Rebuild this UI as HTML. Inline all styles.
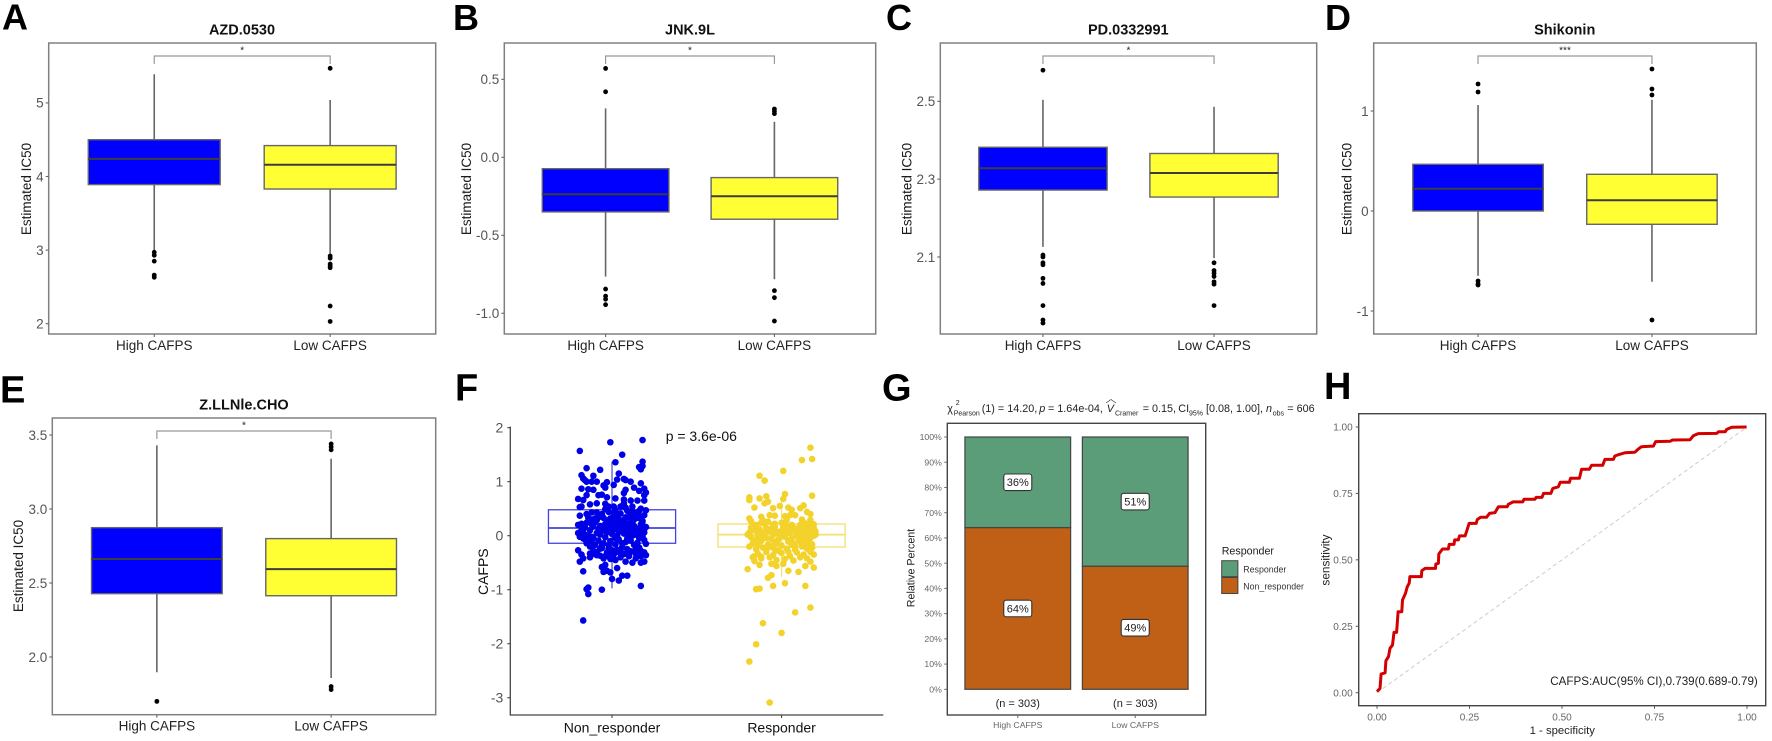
<!DOCTYPE html>
<html lang="en">
<head>
<meta charset="utf-8">
<title>CAFPS drug sensitivity, response and ROC panels</title>
<style>
html,body{margin:0;padding:0;background:#fff;width:1772px;height:741px;overflow:hidden}
svg{display:block}
text{font-family:"Liberation Sans",Arial,sans-serif}
</style>
</head>
<body>
<svg id="figure" xmlns="http://www.w3.org/2000/svg" width="1772" height="741" viewBox="0 0 1772 741">
<rect x="0" y="0" width="1772" height="741" fill="#ffffff"/>
</svg>
<script>
/* ---------- Shared categories ---------- */
const boxCategories = ['High CAFPS', 'Low CAFPS'];

/* ---------- Boxplot data: [lower whisker, q1, median, q3, upper whisker] ---------- */
const azdTicks = [2, 3, 4, 5];
const azdTickLabels = ['2', '3', '4', '5'];
const azdHighBox = [3.0, 3.89, 4.24, 4.5, 5.39];
const azdLowBox = [2.95, 3.83, 4.16, 4.42, 5.04];
const azdHighOutliers = [2.97, 2.93, 2.85, 2.66, 2.63];
const azdLowOutliers = [5.47, 2.92, 2.89, 2.81, 2.78, 2.76, 2.24, 2.03];

const jnkTicks = [-1, -0.5, 0, 0.5];
const jnkTickLabels = ['-1.0', '-0.5', '0.0', '0.5'];
const jnkHighBox = [-0.765, -0.35, -0.237, -0.073, 0.314];
const jnkLowBox = [-0.782, -0.397, -0.25, -0.13, 0.228];
const jnkHighOutliers = [0.57, 0.42, -0.845, -0.89, -0.91, -0.945];
const jnkLowOutliers = [0.31, 0.295, 0.28, -0.855, -0.9, -1.05];

const pdTicks = [2.1, 2.3, 2.5];
const pdTickLabels = ['2.1', '2.3', '2.5'];
const pdHighBox = [2.126, 2.272, 2.328, 2.382, 2.504];
const pdLowBox = [2.097, 2.254, 2.316, 2.366, 2.486];
const pdHighOutliers = [2.58, 2.105, 2.1, 2.085, 2.08, 2.045, 2.032, 1.975, 1.938, 1.93];
const pdLowOutliers = [2.085, 2.065, 2.058, 2.05, 2.036, 2.03, 1.975];

const shiTicks = [-1, 0, 1];
const shiTickLabels = ['-1', '0', '1'];
const shiHighBox = [-0.647, 0.0, 0.223, 0.467, 1.06];
const shiLowBox = [-0.707, -0.133, 0.107, 0.367, 1.113];
const shiHighOutliers = [1.27, 1.19, -0.70, -0.73, -0.74];
const shiLowOutliers = [1.42, 1.22, 1.16, -1.09];

const zllTicks = [2, 2.5, 3, 3.5];
const zllTickLabels = ['2.0', '2.5', '3.0', '3.5'];
const zllHighBox = [1.897, 2.428, 2.662, 2.874, 3.43];
const zllLowBox = [1.858, 2.414, 2.594, 2.8, 3.34];
const zllHighOutliers = [1.7];
const zllLowOutliers = [3.44, 3.42, 3.4, 1.8, 1.78];

/* ---------- Panel F data ---------- */
const scatterCategories = ['Non_responder', 'Responder'];
const scatterTicks = [-3, -2, -1, 0, 1, 2];
const scatterTickLabels = ['-3', '-2', '-1', '0', '1', '2'];
const nonResponderBox = [-0.975, -0.14, 0.143, 0.48, 1.37];
const responderBox = [-0.76, -0.21, 0.02, 0.217, 0.70];
const nonResponderJitter = [
-.19,-.01,.18,.06,.02,.18,.18,.17,.16,-.15,-.07,.04,-.11,-.18,-.17,-.16,-.15,.03,.07,.08,
.11,.17,-.12,-.09,-.03,-.05,-.04,.01,-.18,-.14,-.11,.08,.07,.13,.19,.16,.20,.19,-.15,-.08,
-.06,-.03,-.20,-.17,-.09,-.13,.02,.07,.11,.15,.07,.19,-.19,-.18,-.04,-.02,.01,.05,.12,.17,
.20,-.20,-.18,-.17,-.19,-.12,-.13,-.13,-.09,-.17,-.07,-.05,-.02,-.06,-.04,-.03,-.05,-.01,.03,.00,
.06,.09,.04,.17,-.15,-.14,-.14,-.06,.17,.19,.12,.08,-.17,-.01,.02,.05,.10,.14,.17,.20,
-.19,-.16,-.12,-.09,-.05,-.02,.02,.05,.09,.13,.16,.19,-.18,-.14,-.10,-.07,-.03,.01,.04,.08,
.11,.15,.18,-.20,-.15,-.11,-.08,-.04,-.01,.03,.06,.10,.13,.17,.20,-.17,-.13,-.09,-.06,-.02,
.02,.05,.09,.12,.16,.19,-.19,-.14,-.11,-.07,-.04,.00,.03,.07,.10,.14,.18,-.20,-.16,-.12,
-.08,-.05,-.01,.04,.08,.11,.15,.19,-.17,-.13,-.10,-.06,-.02,.02,.06,.09,.13,.16,.20,-.15,
-.11,-.07,-.03,.00,.04,.07,.11,.14,.17,.19,-.09,-.04,.01,.05,.10,.15,.18,.12,.06,.02,
-.04,.08,.13,.17,-.12,-.06,.00,.04,.11,.15,-.10,-.01,.07,.12,.18,-.03,.03,.10,.14,.16,
-.16,-.12,-.08,-.04,.00,.04,.08,.12,.16,.19,-.18,-.13,-.09,-.05,.01,.05,.09,.13,.17,.03,
-.15,-.10,-.06,-.01,.03,.07,.12,.16,.18,.10,-.07,-.02,.02,.06,.10,.14,-.12,-.03,.05,.11];
const nonResponderValues = [
1.57,1.73,1.77,1.50,1.36,1.37,1.29,1.23,1.27,1.25,1.22,1.15,1.11,1.12,1.06,1.03,1.00,1.04,1.05,1.03,
1.00,.97,1.00,1.00,.99,.93,.89,.94,.87,.86,.85,.85,.79,.89,.87,.83,.80,.75,.75,.75,
.76,.71,.68,.66,.60,.58,.69,.67,.65,.65,.60,.65,.53,.54,.59,.54,.54,.54,.54,.50,
.47,-.27,-.35,-.42,-.48,-.35,-.33,-.40,-.30,-.66,-.37,-.42,-.32,-.58,-.54,-.65,-.67,-.68,-.60,-.80,
-.74,-.74,-.83,-.93,-.99,-.96,-1.08,-1.00,-.50,-.48,-.50,-.48,-1.57,-.43,-.45,-.40,-.38,-.42,-.38,-.36,
.37,.15,.30,.43,.33,.44,.47,.41,.46,.43,.46,.38,.22,.33,.25,.18,.28,.36,.30,.34,
.29,.33,.27,.20,.24,.17,.12,.22,.18,.23,.20,.22,.18,.21,.16,.06,.10,.05,.12,.08,
.12,.08,.13,.09,.11,.06,-.02,.00,-.04,.02,-.03,.03,.00,.04,-.02,.02,-.01,.05,-.07,-.12,
-.09,-.14,-.10,-.07,-.12,-.09,-.13,-.08,-.05,-.20,-.17,-.23,-.18,-.16,-.21,-.25,-.17,-.22,-.15,-.14,
-.28,-.24,-.31,-.27,-.30,-.34,-.29,-.33,-.28,-.31,-.36,-.38,-.35,-.32,-.36,-.30,-.34,.00,.28,.17,
.49,.52,.38,.31,.43,.40,.09,.15,.44,.12,.32,.32,.29,.25,.03,.06,.26,.07,.14,-.04,
.02,.21,.34,.15,.27,.08,.23,.03,.36,.12,.10,-.08,.29,.10,.42,.18,-.05,.30,.08,-.26,
.40,-.30,-.18,.14,.38,.12,.28,.02,.20,.16,.06,-.24,-.04,-.14,.35,-.25,-.02,.50,-.28,.10];
const responderJitter = [
.17,.12,.18,.01,-.13,-.10,.18,.02,-.19,-.19,-.13,-.09,.01,-.08,-.10,-.16,-.05,-.01,.04,.06,
.13,.11,.15,.17,.05,.08,-.19,-.18,-.12,-.07,-.04,.02,.03,.12,.17,-.20,-.13,-.06,-.03,.01,
.04,.10,.14,.17,.19,-.16,-.12,-.17,-.06,-.08,.02,-.05,.14,-.15,-.13,.17,.08,-.11,.00,-.15,
-.19,-.07,-.18,-.15,-.11,-.08,-.04,.00,.03,.07,.11,.13,.15,.17,.19,.10,.08,.12,.16,.18,
-.20,-.16,-.13,-.10,-.06,-.03,.01,.05,.09,.12,.14,.16,.18,.20,-.18,-.14,-.09,-.05,-.02,.02,
.06,.09,.11,.13,.15,.17,.19,-.17,-.12,-.08,-.04,.00,.04,.07,.10,.13,.16,.18,-.19,-.15,
-.11,-.06,-.02,.03,.08,.12,.15,.18,-.14,-.09,-.05,.00,.05,.09,.13,.17,-.16,-.12,-.07,-.03,
.02,.07,.11,.15,.19,-.10,-.04,.01,.06,.10,.14,.16,.12,.09,.14,.17,.11,.13,.15,.06,
-.17,-.13,-.09,-.05,-.01,.03,.06,.10,.13,.16,.19,-.15,-.11,-.07,-.03,.01,.05,.09,.12,.15,
.18,-.19,-.14,-.10,-.06,-.02,.02,.06,.11,.14,.17,.20,-.16,-.08,.00,.08,.15,-.12,-.04,.04];
const responderValues = [
1.63,1.40,1.42,1.20,1.11,1.02,.74,.77,.71,.66,.69,.73,.68,.63,.60,.52,.51,.55,.52,.48,
.56,.51,.44,.40,.38,.38,.32,.27,.35,.38,.37,.36,.29,.30,.29,-.62,-.54,-.52,-.56,-.52,
-.65,-.67,-.56,-.48,-.59,-.47,-.39,-.40,-.73,-.78,-.88,-.93,-.93,-.99,-.98,-1.33,-1.42,-1.62,-1.80,-2.01,
-2.33,-3.09,.15,.20,.28,.26,.22,.24,.18,.15,.20,.24,.22,.19,.21,.14,.10,.16,.15,.12,
.02,.10,.12,.04,.13,.08,.11,.05,.08,.11,.07,.09,.05,.08,-.03,.00,-.04,.02,-.07,-.02,
-.05,.00,.03,-.02,.01,-.04,.00,-.14,-.10,-.16,-.12,-.18,-.11,-.15,-.09,-.14,-.10,-.16,-.20,-.25,
-.22,-.20,-.28,-.24,-.26,-.20,-.24,-.22,-.33,-.30,-.36,-.32,-.38,-.31,-.35,-.30,-.38,-.42,-.40,-.45,
-.43,-.46,-.40,-.42,-.35,.06,.17,.03,.20,-.01,.13,.03,.04,.06,-.06,.11,-.12,.18,.00,.14,
.18,.05,.14,.20,-.02,.12,.10,.03,-.05,.05,.14,-.08,-.03,.08,-.14,.16,-.08,.12,.20,-.12,
.00,.06,-.18,.22,-.06,.04,.07,-.17,-.07,.09,-.02,.02,.13,-.22,.09,-.20,-.15,.24,-.26,-.30];

/* ---------- Panel G data ---------- */
const percentTicks = [0, 10, 20, 30, 40, 50, 60, 70, 80, 90, 100];
const percentTickLabels = ['0%', '10%', '20%', '30%', '40%', '50%', '60%', '70%', '80%', '90%', '100%'];
const nonResponderPercent = [64.1, 48.8];
const responderPercent = [35.9, 51.2];
const nonResponderPercentLabels = ['64%', '49%'];
const responderPercentLabels = ['36%', '51%'];
const barCounts = ['(n = 303)', '(n = 303)'];
const legendEntries = ['Responder', 'Non_responder'];

/* ---------- Panel H data ---------- */
const rocTicks = [0, 0.25, 0.5, 0.75, 1];
const rocTickLabels = ['0.00', '0.25', '0.50', '0.75', '1.00'];
const rocFpr = [0,.008,.011,.022,.024,.031,.035,.042,.046,.053,.057,.067,.069,.077,.082,.087,.089,.120,.121,.130,.158,.159,.166,.167,.177,.193,.195,.208,.210,.220,.223,.238,.242,.249,.268,.271,.280,.296,.304,.319,.328,.352,.355,.368,.394,.397,.427,.430,.446,.450,.470,.475,.490,.495,.520,.523,.547,.553,.574,.580,.610,.616,.639,.643,.655,.670,.697,.706,.715,.747,.753,.792,.799,.846,.855,.868,.918,.923,.941,.945,.959,.999];
const rocTpr = [.004,.016,.070,.075,.120,.136,.167,.179,.227,.227,.305,.305,.349,.374,.399,.412,.437,.437,.459,.468,.468,.484,.487,.522,.541,.541,.558,.558,.575,.575,.590,.590,.606,.637,.637,.652,.660,.660,.675,.678,.700,.700,.709,.718,.718,.728,.728,.735,.735,.750,.750,.769,.775,.792,.792,.807,.807,.841,.841,.856,.856,.878,.878,.891,.897,.903,.905,.917,.926,.928,.945,.946,.951,.952,.967,.975,.976,.982,.982,.991,.999,1];

/* ---------- Helpers ---------- */
const NS = 'http://www.w3.org/2000/svg';
const root = document.getElementById('figure');
function mk(tag, attrs, parent, text) {
  const n = document.createElementNS(NS, tag);
  for (const k in attrs) n.setAttribute(k, attrs[k]);
  if (text !== undefined) n.textContent = text;
  (parent || root).appendChild(n);
  return n;
}
function named(el, name) {
  
  
  return el;
}
function linear(d0, d1, r0, r1) {
  return function (v) { return r0 + (v - d0) / (d1 - d0) * (r1 - r0); };
}
function band(left, right, i) {
  return left + (i + 0.6) / 2.2 * (right - left);
}
const bandUnit = function (left, right) { return (right - left) / 2.2; };

/* ---------- Boxplot panels A–E ---------- */
function drawBoxPanel(cfg) {
  const g = named(mk('g', {}), 'panel-' + cfg.id);
  const l = cfg.frame[0], t = cfg.frame[1], r = cfg.frame[2], b = cfg.frame[3];
  const y = linear(cfg.domain[0], cfg.domain[1], b, t);
  named(mk('text', { x: cfg.letterX, y: cfg.letterY, 'font-size': cfg.letterSize, 'font-weight': 'bold', fill: '#000' }, g, cfg.letter), 'panel-letter');
  named(mk('text', { x: cfg.titleX, y: t - 8.5, 'text-anchor': 'middle', 'font-size': 14.5, 'font-weight': 'bold', fill: '#111' }, g, cfg.title), 'panel-title');
  named(mk('text', { transform: 'translate(' + cfg.labelX + ',' + cfg.labelY + ') rotate(-90)', 'text-anchor': 'middle', 'font-size': 13.5, fill: '#1a1a1a' }, g, 'Estimated IC50'), 'y-axis-title');
  named(mk('rect', { x: l, y: t, width: r - l, height: b - t, fill: 'none', stroke: '#808080', 'stroke-width': 1.5 }, g), 'plot-frame');

  cfg.ticks.forEach(function (v, i) {
    const ty = y(v);
    const tick = mk('line', { x1: l - 3, x2: l, y1: ty, y2: ty, stroke: '#666', 'stroke-width': 1.1 }, g);
    
    
    const lab = mk('text', { x: l - 5, y: ty + 4.8, 'text-anchor': 'end', 'font-size': 13.5, fill: '#555' }, g, cfg.tickLabels[i]);
    
    
  });

  const unit = bandUnit(l, r);
  const series = [
    { stats: cfg.high, out: cfg.highOut, fill: '#0000ff', name: 'high-cafps' },
    { stats: cfg.low, out: cfg.lowOut, fill: '#ffff33', name: 'low-cafps' }
  ];
  series.forEach(function (s, i) {
    const cx = band(l, r, i);
    const w = unit * 0.75;
    const tick = mk('line', { x1: cx, x2: cx, y1: b, y2: b + 3, stroke: '#666', 'stroke-width': 1.1 }, g);
    
    
    const lab = mk('text', { x: cx, y: b + 15.8, 'text-anchor': 'middle', 'font-size': 13.5, fill: '#222' }, g, boxCategories[i]);
    
    
    const whisker = mk('path', { d: 'M' + cx + ' ' + y(s.stats[4]) + 'V' + y(s.stats[3]) + 'M' + cx + ' ' + y(s.stats[1]) + 'V' + y(s.stats[0]), stroke: '#666', 'stroke-width': 1.6, fill: 'none' }, g);
    
    
    const box = mk('rect', { x: cx - w / 2, y: y(s.stats[3]), width: w, height: y(s.stats[1]) - y(s.stats[3]), fill: s.fill, stroke: '#666', 'stroke-width': 1.4 }, g);
    
    
    const med = mk('line', { x1: cx - w / 2, x2: cx + w / 2, y1: y(s.stats[2]), y2: y(s.stats[2]), stroke: '#3d3d3d', 'stroke-width': 2 }, g);
    
    
    s.out.forEach(function (v) {
      const dot = mk('circle', { cx: cx, cy: y(v), r: 2.4, fill: '#000' }, g);
      
      
    });
  });

  const x0 = band(l, r, 0), x1 = band(l, r, 1), by = t + 13;
  named(mk('path', { d: 'M' + x0 + ' ' + (by + 8) + 'V' + by + 'H' + x1 + 'V' + (by + 8), fill: 'none', stroke: '#999', 'stroke-width': 1.2 }, g), 'significance-bracket');
  named(mk('text', { x: (x0 + x1) / 2, y: t + 10.5, 'text-anchor': 'middle', 'font-size': 10, fill: '#222' }, g, cfg.stars), 'significance-stars');
}

drawBoxPanel({ id: 'a', letter: 'A', letterX: 2, letterY: 29.5, letterSize: 36, title: 'AZD.0530', titleX: 242, frame: [48.7, 43, 435.7, 334], domain: [1.860, 5.814], ticks: azdTicks, tickLabels: azdTickLabels, high: azdHighBox, low: azdLowBox, highOut: azdHighOutliers, lowOut: azdLowOutliers, stars: '*', labelX: 31, labelY: 189 });
drawBoxPanel({ id: 'b', letter: 'B', letterX: 453, letterY: 30, letterSize: 36, title: 'JNK.9L', titleX: 690, frame: [504.3, 43, 875.7, 334], domain: [-1.133, 0.733], ticks: jnkTicks, tickLabels: jnkTickLabels, high: jnkHighBox, low: jnkLowBox, highOut: jnkHighOutliers, lowOut: jnkLowOutliers, stars: '*', labelX: 471, labelY: 189 });
drawBoxPanel({ id: 'c', letter: 'C', letterX: 886, letterY: 30, letterSize: 36, title: 'PD.0332991', titleX: 1128.3, frame: [940.3, 43, 1316.7, 334], domain: [1.902, 2.65], ticks: pdTicks, tickLabels: pdTickLabels, high: pdHighBox, low: pdLowBox, highOut: pdHighOutliers, lowOut: pdLowOutliers, stars: '*', labelX: 911.5, labelY: 189 });
drawBoxPanel({ id: 'd', letter: 'D', letterX: 1325, letterY: 30, letterSize: 36, title: 'Shikonin', titleX: 1564.7, frame: [1373.7, 43, 1756.3, 334], domain: [-1.23, 1.68], ticks: shiTicks, tickLabels: shiTickLabels, high: shiHighBox, low: shiLowBox, highOut: shiHighOutliers, lowOut: shiLowOutliers, stars: '***', labelX: 1351.5, labelY: 189 });
drawBoxPanel({ id: 'e', letter: 'E', letterX: 0, letterY: 402.7, letterSize: 38, title: 'Z.LLNle.CHO', titleX: 244, frame: [52.3, 418, 435.7, 714.7], domain: [1.61, 3.615], ticks: zllTicks, tickLabels: zllTickLabels, high: zllHighBox, low: zllLowBox, highOut: zllHighOutliers, lowOut: zllLowOutliers, stars: '*', labelX: 23, labelY: 566 });

/* ---------- Panel F ---------- */
(function () {
  const g = named(mk('g', {}), 'panel-f');
  const l = 510.3, r = 883.3, t = 426.6, b = 715;
  const y = linear(-3.32, 2.02, b, t);
  const x = function (i, j) { return band(l, r, i) + j * bandUnit(l, r); };
  named(mk('text', { x: 455, y: 400.7, 'font-size': 38, 'font-weight': 'bold', fill: '#000' }, g, 'F'), 'panel-letter');
  named(mk('path', { d: 'M' + l + ' ' + t + 'V' + b + 'H' + r, fill: 'none', stroke: '#444', 'stroke-width': 1.3 }, g), 'axis-lines');
  scatterTicks.forEach(function (v, i) {
    const tick = mk('line', { x1: l - 3, x2: l, y1: y(v), y2: y(v), stroke: '#444', 'stroke-width': 1.1 }, g);
    
    
    const lab = mk('text', { x: l - 7, y: y(v) + 5, 'text-anchor': 'end', 'font-size': 14, fill: '#555' }, g, scatterTickLabels[i]);
    
    
  });
  named(mk('text', { transform: 'translate(488,571.7) rotate(-90)', 'text-anchor': 'middle', 'font-size': 14, fill: '#111' }, g, 'CAFPS'), 'y-axis-title');
  named(mk('text', { x: 665.7, y: 441, 'font-size': 14, fill: '#111' }, g, 'p = 3.6e-06'), 'p-value-label');

  const groups = [
    { box: nonResponderBox, jit: nonResponderJitter, val: nonResponderValues, line: '#4343dd', dot: '#0000e6', name: 'non-responder' },
    { box: responderBox, jit: responderJitter, val: responderValues, line: '#f3e06e', dot: '#f2d22b', name: 'responder' }
  ];
  groups.forEach(function (s, i) {
    const cx = band(l, r, i), w = bandUnit(l, r) * 0.75;
    const tick = mk('line', { x1: cx, x2: cx, y1: b, y2: b + 3, stroke: '#444', 'stroke-width': 1.1 }, g);
    
    
    const lab = mk('text', { x: cx, y: 732.3, 'text-anchor': 'middle', 'font-size': 14, fill: '#111' }, g, scatterCategories[i]);
    
    
    const whisker = mk('line', { x1: cx, x2: cx, y1: y(s.box[4]), y2: y(s.box[0]), stroke: s.line, 'stroke-width': 1.2 }, g);
    
    
    const box = mk('rect', { x: cx - w / 2, y: y(s.box[3]), width: w, height: y(s.box[1]) - y(s.box[3]), fill: 'none', stroke: s.line, 'stroke-width': 1.3 }, g);
    
    
    const med = mk('line', { x1: cx - w / 2, x2: cx + w / 2, y1: y(s.box[2]), y2: y(s.box[2]), stroke: s.line, 'stroke-width': 1.7 }, g);
    
    
    s.val.forEach(function (v, k) {
      const dot = mk('circle', { cx: x(i, s.jit[k]), cy: y(v), r: 3.3, fill: s.dot }, g);
      
      
    });
  });
})();

/* ---------- Panel G ---------- */
(function () {
  const g = named(mk('g', {}), 'panel-g');
  const l = 947.3, r = 1205.7, t = 423.3, b = 715;
  const y = linear(0, 100, 689.3, 437);
  named(mk('text', { x: 882, y: 400.7, 'font-size': 38, 'font-weight': 'bold', fill: '#000' }, g, 'G'), 'panel-letter');

  const titleGroup = named(mk('g', { 'font-size': 10.8, fill: '#222' }, g), 'statistics-subtitle');
  const pieces = [
    ['\u03C7', 947.3, 412, 10.8, 'normal'], ['2', 955.7, 405, 7, 'normal'], ['Pearson', 953.7, 415.3, 7, 'normal'],
    ['(1) = 14.20,', 981.7, 412, 10.8, 'normal'], ['p', 1039.3, 412, 10.8, 'italic'], ['= 1.64e-04,', 1048, 412, 10.8, 'normal'],
    ['V', 1106.7, 412, 10.8, 'italic'], ['Cramer', 1115, 415.3, 7, 'normal'], ['= 0.15,', 1142.7, 412, 10.8, 'normal'],
    ['CI', 1178.3, 412, 10.8, 'normal'], ['95%', 1189, 415.3, 7, 'normal'], ['[0.08, 1.00],', 1206, 412, 10.8, 'normal'],
    ['n', 1266, 412, 10.8, 'italic'], ['obs', 1272.7, 415.3, 7, 'normal'], ['= 606', 1287.3, 412, 10.8, 'normal']
  ];
  pieces.forEach(function (p) {
    const txt = mk('text', { x: p[1], y: p[2], 'font-size': p[3], 'font-style': p[4] }, titleGroup, p[0]);
    
    
  });
  named(mk('path', { d: 'M1106 403 L1111 399.5 L1116 403', fill: 'none', stroke: '#333', 'stroke-width': 0.7 }, titleGroup), 'v-hat');

  named(mk('rect', { x: l, y: t, width: r - l, height: b - t, fill: 'none', stroke: '#444', 'stroke-width': 1.4 }, g), 'plot-frame');
  percentTicks.forEach(function (v, i) {
    const tick = mk('line', { x1: l - 3, x2: l, y1: y(v), y2: y(v), stroke: '#666', 'stroke-width': 1 }, g);
    
    
    const lab = mk('text', { x: l - 5.5, y: y(v) + 3.1, 'text-anchor': 'end', 'font-size': 8.7, fill: '#666' }, g, percentTickLabels[i]);
    
    
  });
  named(mk('text', { transform: 'translate(914.5,568) rotate(-90)', 'text-anchor': 'middle', 'font-size': 10.7, fill: '#222' }, g, 'Relative Percent'), 'y-axis-title');

  const unit = bandUnit(l, r);
  boxCategories.forEach(function (c, i) {
    const cx = band(l, r, i), w = unit * 0.9;
    const orange = mk('rect', { x: cx - w / 2, y: y(nonResponderPercent[i]), width: w, height: y(0) - y(nonResponderPercent[i]), fill: '#c05f16', stroke: '#444', 'stroke-width': 1.2 }, g);
    
    
    const greenTop = nonResponderPercent[i] + responderPercent[i];
    const green = mk('rect', { x: cx - w / 2, y: y(greenTop), width: w, height: y(nonResponderPercent[i]) - y(greenTop), fill: '#5a9d78', stroke: '#444', 'stroke-width': 1.2 }, g);
    
    
    [[nonResponderPercent[i] / 2, nonResponderPercentLabels[i], 'non-responder'], [nonResponderPercent[i] + responderPercent[i] / 2, responderPercentLabels[i], 'responder']].forEach(function (d) {
      const ly = y(d[0]);
      const bg = mk('rect', { x: cx - 14, y: ly - 8.3, width: 28, height: 16.6, rx: 2.5, fill: '#fff', stroke: '#333', 'stroke-width': 1.1 }, g);
      
      
      const tx = mk('text', { x: cx, y: ly + 3.9, 'text-anchor': 'middle', 'font-size': 11, fill: '#222' }, g, d[1]);
      
      
    });
    const n = mk('text', { x: cx, y: 707, 'text-anchor': 'middle', 'font-size': 11, fill: '#222' }, g, barCounts[i]);
    
    
    const tick = mk('line', { x1: cx, x2: cx, y1: b, y2: b + 3, stroke: '#666', 'stroke-width': 1 }, g);
    
    
    const lab = mk('text', { x: cx, y: 728, 'text-anchor': 'middle', 'font-size': 8.7, fill: '#666' }, g, c);
    
    
  });

  const legend = named(mk('g', {}, g), 'legend');
  named(mk('text', { x: 1221.7, y: 554.5, 'font-size': 10.7, fill: '#222' }, legend, 'Responder'), 'legend-title');
  const swatchColors = ['#5a9d78', '#c05f16'];
  legendEntries.forEach(function (e, i) {
    const top = 560.7 + i * 16.8;
    const sw = mk('rect', { x: 1221.7, y: top, width: 16.2, height: 16, fill: swatchColors[i], stroke: '#444', 'stroke-width': 1 }, legend);
    
    
    const lab = mk('text', { x: 1243.3, y: top + 12, 'font-size': 8.8, fill: '#333' }, legend, e);
    
    
  });
})();

/* ---------- Panel H ---------- */
(function () {
  const g = named(mk('g', {}), 'panel-h');
  const l = 1358.7, r = 1765.7, t = 413.7, b = 705.7;
  const x = linear(0, 1, 1377, 1747);
  const y = linear(0, 1, 692.7, 427);
  named(mk('text', { x: 1324, y: 399, 'font-size': 38, 'font-weight': 'bold', fill: '#000' }, g, 'H'), 'panel-letter');
  named(mk('rect', { x: l, y: t, width: r - l, height: b - t, fill: 'none', stroke: '#444', 'stroke-width': 1.4 }, g), 'plot-frame');
  rocTicks.forEach(function (v, i) {
    const ty = mk('line', { x1: l - 3, x2: l, y1: y(v), y2: y(v), stroke: '#555', 'stroke-width': 1 }, g);
    
    
    const ly = mk('text', { x: 1352.7, y: y(v) + 3.6, 'text-anchor': 'end', 'font-size': 10, fill: '#666' }, g, rocTickLabels[i]);
    
    
    const tx = mk('line', { x1: x(v), x2: x(v), y1: b, y2: b + 3, stroke: '#555', 'stroke-width': 1 }, g);
    
    
    const lx = mk('text', { x: x(v), y: 720.3, 'text-anchor': 'middle', 'font-size': 10, fill: '#666' }, g, rocTickLabels[i]);
    
    
  });
  named(mk('line', { x1: x(0), y1: y(0), x2: x(1), y2: y(1), stroke: '#c8c8c8', 'stroke-width': 0.9, 'stroke-dasharray': '4 3' }, g), 'reference-diagonal');
  const d = rocFpr.map(function (f, i) { return (i ? 'L' : 'M') + x(f).toFixed(1) + ' ' + y(rocTpr[i]).toFixed(1); }).join('');
  named(mk('path', { d: d, fill: 'none', stroke: '#d40000', 'stroke-width': 3, 'stroke-linejoin': 'round' }, g), 'roc-curve');
  named(mk('text', { x: 1550.3, y: 684.8, 'font-size': 11.6, fill: '#222' }, g, 'CAFPS:AUC(95% CI),0.739(0.689-0.79)'), 'auc-annotation');
  named(mk('text', { x: 1562.3, y: 734, 'text-anchor': 'middle', 'font-size': 11.3, fill: '#222' }, g, '1 - specificity'), 'x-axis-title');
  named(mk('text', { transform: 'translate(1329.7,560) rotate(-90)', 'text-anchor': 'middle', 'font-size': 11.8, fill: '#222' }, g, 'sensitivity'), 'y-axis-title');
})();
</script>
</body>
</html>
